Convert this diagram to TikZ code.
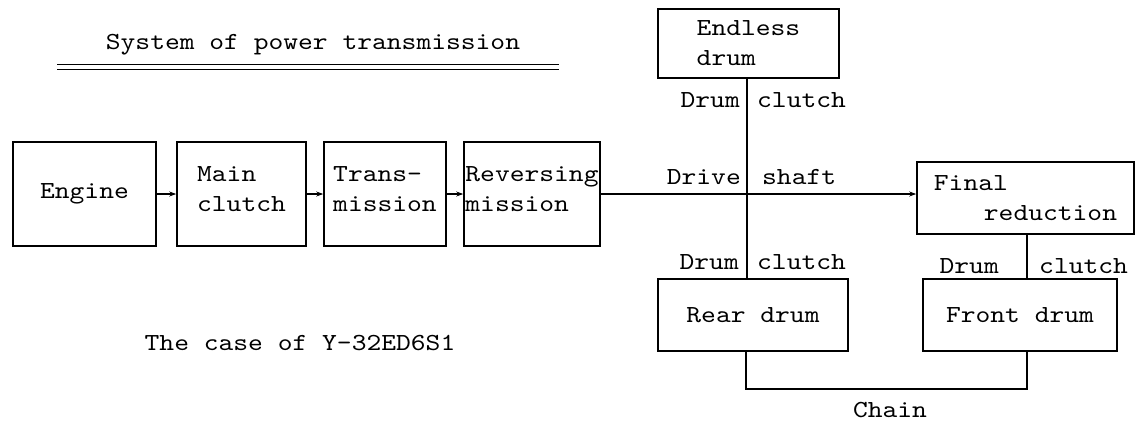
\documentclass[tikz,border=0pt]{standalone}
\usepackage{fontspec}
\newfontfamily\tw{lmmono10-regular}[Extension=.otf, FakeStretch=1.15]
\usetikzlibrary{arrows.meta}
\begin{document}
\begin{tikzpicture}[x=1pt,y=-1pt,
  every node/.style={font=\tw\fontsize{24.5}{30}\selectfont, inner sep=0pt},
  box/.style={draw, line width=1.6pt, align=left},
  upbox/.style={box, text depth=10pt},
  lbl/.style={},
  con/.style={line width=1.1pt},
  arr/.style={con, -{Stealth[length=7pt,width=5pt]}}]
\useasboundingbox (0,0) rectangle (1136,421);
% title
\node[lbl] (title) at (313,45) {System of power transmission};
\coordinate (u1) at (57,64.5);
\coordinate (u2) at (559,64.5);
\coordinate (u3) at (57,69.5);
\coordinate (u4) at (559,69.5);
\draw[line width=1pt] (u1) -- (u2);
\draw[line width=1.4pt] (u3) -- (u4);
\node[lbl] (case) at (300,343) {The case of Y-32ED6S1};
% boxes
\node[box, minimum width=143pt, minimum height=104pt] (eng) at (84.5,194) {Engine};
\node[upbox, minimum width=129pt, minimum height=104pt] (mc) at (241.5,194) {Main\\clutch};
\node[upbox, minimum width=122pt, minimum height=104pt] (tr) at (385,194) {Trans-\\mission};
\node[upbox, minimum width=136pt, minimum height=104pt] (rev) at (532,194) {Reversing\\mission};
\node[box, minimum width=181pt, minimum height=69pt] (ed) at (748.5,43.5) {Endless\\drum};
\node[box, minimum width=217pt, minimum height=72pt] (fr) at (1025.5,198) {Final\\\hspace*{50pt}reduction};
\node[box, minimum width=190pt, minimum height=72pt] (rd) at (753,315) {Rear drum};
\node[box, minimum width=194pt, minimum height=72pt] (fd) at (1020,315) {Front drum};
% small arrows
\draw[arr] (eng.east) -- (eng.east -| mc.west);
\draw[arr] (eng.east -| mc.east) -- (eng.east -| tr.west);
\draw[arr] (eng.east -| tr.east) -- (eng.east -| rev.west);
% drive shaft
\draw[arr] (eng.east -| rev.east) -- (eng.east -| fr.west);
\coordinate (ds) at (747,194);
\draw[con] (ds |- ed.south) -- (ds);
\draw[con] (ds) -- (ds |- rd.north);
\coordinate (fx) at (1027,250);
\draw[con] (fx |- fr.south) -- (fx |- fd.north);
% chain
\coordinate (c1) at (746,389);
\coordinate (c2) at (1027,389);
\draw[con] (c1 |- rd.south) -- (c1) -- (c2) -- (c2 |- fd.south);
% labels
\node[lbl, anchor=east] (dc1a) at (740,100) {Drum};
\node[lbl, anchor=west] (dc1b) at (757,100) {clutch};
\node[lbl, anchor=east] (dva) at (741,177) {Drive};
\node[lbl, anchor=west] (dvb) at (762,177) {shaft};
\node[lbl, anchor=east] (dc2a) at (739,262) {Drum};
\node[lbl, anchor=west] (dc2b) at (757,262) {clutch};
\node[lbl, anchor=east] (dc3a) at (999,266) {Drum};
\node[lbl, anchor=west] (dc3b) at (1039,266) {clutch};
\node[lbl] (chain) at (890,410) {Chain};
\end{tikzpicture}
\end{document}
